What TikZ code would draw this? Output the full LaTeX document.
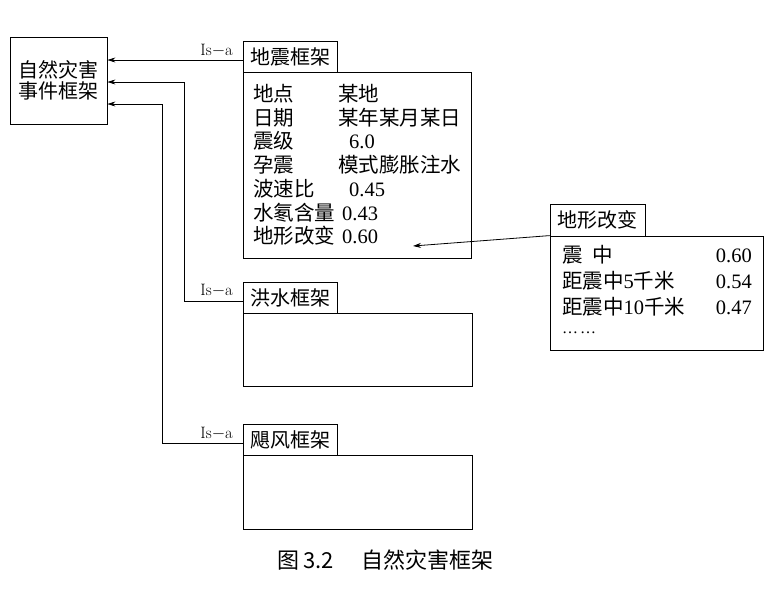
\documentclass[tikz,border=0pt]{standalone}
\usepackage{fontspec}
\newfontfamily\cjk{Noto Sans CJK SC}
\newfontfamily\tms{Liberation Serif}
\newcommand{\C}[1]{{\cjk #1}}
\usetikzlibrary{arrows.meta}
\begin{document}
\begin{tikzpicture}[x=1pt,y=-1pt,
  frame/.style={draw, line width=0.8pt, inner sep=0pt, font=\cjk\fontsize{20}{20.5}\selectfont, align=center},
  lbl/.style={anchor=base west, inner sep=0pt, font=\tms\fontsize{20.5}{22}\selectfont},
  val/.style={anchor=base east, inner sep=0pt, font=\tms\fontsize{20.5}{22}\selectfont},
  isa/.style={anchor=base east, inner sep=0pt, font=\fontsize{16.5}{18}\selectfont},
  arr/.style={line width=0.8pt, -{Stealth[length=8pt,width=5pt]}},
  conn/.style={line width=0.8pt}
]
\useasboundingbox (0,0) rectangle (773,603);
\fill[white] (0,0) rectangle (773,603);

% top-level frame
\node[frame, minimum width=97, minimum height=87] (nat) at (58.5,80.5) {自然灾害\\事件框架};

% earthquake frame
\node[frame, minimum width=228, minimum height=186] (qb) at (357,165) {};
\node[frame, minimum width=94, minimum height=31, fill=white] (qt) at (290,56.5) {地震框架};

\node[lbl] (q1) at (253,101.5) {\C{地点}};
\node[lbl] (q2) at (253,125.2) {\C{日期}};
\node[lbl] (q3) at (253,148.9) {\C{震级}};
\node[lbl] (q4) at (253,172.6) {\C{孕震}};
\node[lbl] (q5) at (253,196.3) {\C{波速比}};
\node[lbl] (q6) at (253,220.0) {\C{水氡含量}};
\node[lbl] (q7) at (253,243.7) {\C{地形改变}};
\node[lbl] (v1) at (338,101.5) {\C{某地}};
\node[lbl] (v2) at (338,125.2) {\C{某年某月某日}};
\node[lbl] (v3) at (349,148.9) {6.0};
\node[lbl] (v4) at (338,172.6) {\C{模式膨胀注水}};
\node[lbl] (v5) at (349,196.3) {0.45};
\node[lbl] (v6) at (342,220.0) {0.43};
\node[lbl] (v7) at (342,243.7) {0.60};

% flood frame
\node[frame, minimum width=229, minimum height=73] (fb) at (357.5,349.5) {};
\node[frame, minimum width=94, minimum height=31, fill=white] (ft) at (290,297.5) {洪水框架};

% typhoon frame
\node[frame, minimum width=229, minimum height=74] (tb) at (357.5,492) {};
\node[frame, minimum width=94, minimum height=31, fill=white] (tt) at (290,439.5) {飓风框架};

% terrain change frame
\node[frame, minimum width=213, minimum height=114] (gb) at (656.5,293) {};
\node[frame, minimum width=95, minimum height=32, fill=white] (gt) at (597.5,220) {地形改变};

\node[lbl] (g1) at (562,262) {\C{震\hspace{0.5em}中}};
\node[lbl] (g2) at (562,288) {\C{距震中}5\C{千米}};
\node[lbl] (g3) at (562,314) {\C{距震中}10\C{千米}};
\node[lbl, font=\tms\fontsize{16}{18}\selectfont, text height=2pt] (g4) at (562,333) {…\hspace{2pt}…};
\node[val] (w1) at (752,262) {0.60};
\node[val] (w2) at (752,288) {0.54};
\node[val] (w3) at (752,314) {0.47};

% Is-a links
\draw[arr] ([yshift=-3.5pt]qt.west) -- ([yshift=-3.5pt]qt.west -| nat.east);
\draw[arr] ([yshift=-3.5pt]ft.west) -- ++(-58,0) |- ([yshift=-1.5pt]nat.east);
\draw[arr] ([yshift=-3.5pt]tt.west) -- ++(-80,0) |- ([yshift=-23.5pt]nat.east);
\node[isa] (i1) at (233,55) {Is$-$a};
\node[isa] (i2) at (233,295) {Is$-$a};
\node[isa] (i3) at (233,438) {Is$-$a};

% terrain link
\coordinate (qe) at (413,246);
\draw[arr] (gb.north west) -- (qe);

% caption
\node[anchor=base west, inner sep=0pt, font=\cjk\fontsize{22}{24}\selectfont] (cap) at (277,568) {图\hspace{4pt}3.2\hspace{28pt}自然灾害框架};
\end{tikzpicture}
\end{document}
